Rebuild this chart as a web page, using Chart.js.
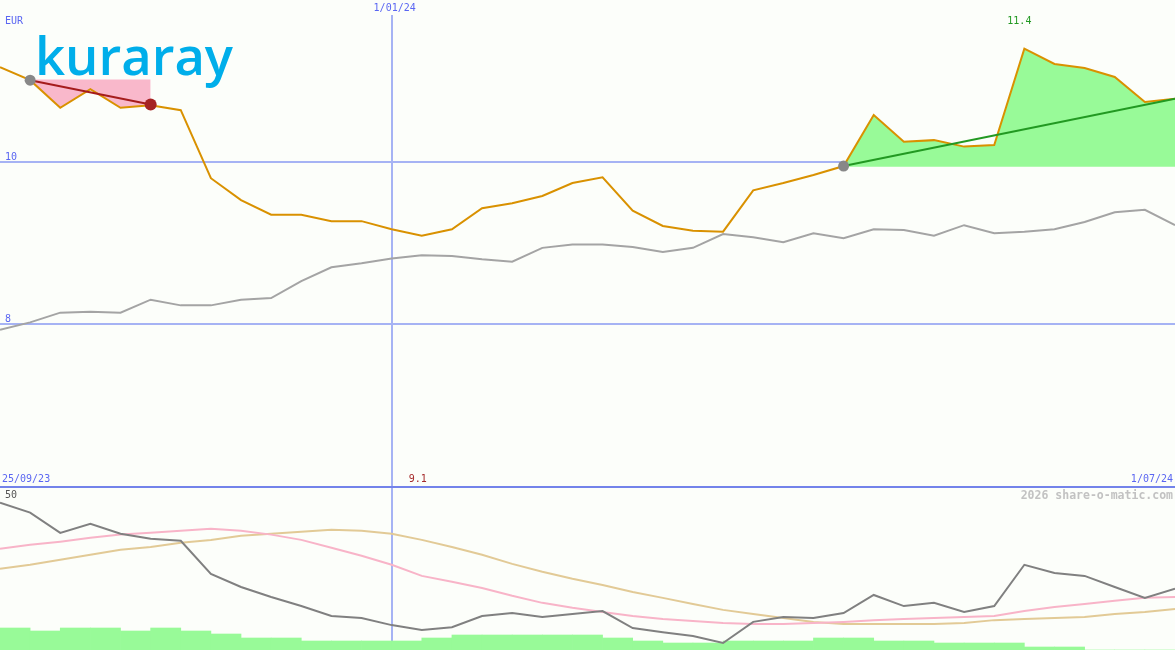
<!DOCTYPE html>
<html lang="en">
<head>
  <meta charset="UTF-8">
  <meta name="viewport" content="width=device-width, initial-scale=1.0">
  <title>Kuraray share chart</title>
  <script src="https://cdn.jsdelivr.net/npm/chart.js"></script>
  <style>
    body {
      margin: 0;
      background-color: #fcfefa;
    }
    canvas {
      display: block;
    }
  </style>
</head>
<body>
  <canvas id="priceChart" width="1175" height="486"></canvas>
  <canvas id="oscChart" width="1175" height="164"></canvas>

  <script>
    // weekly data, 25/09/23 .. 1/07/24
    const price = [11.17, 11.01, 10.67, 10.90, 10.67, 10.70, 10.64, 9.80, 9.53, 9.35,
                   9.35, 9.27, 9.27, 9.17, 9.09, 9.17, 9.43, 9.49, 9.58, 9.74,
                   9.81, 9.40, 9.21, 9.15, 9.14, 9.65, 9.74, 9.84, 9.95, 10.58,
                   10.25, 10.27, 10.19, 10.21, 11.40, 11.21, 11.16, 11.05, 10.74, 10.78];
    const compare = [7.93, 8.02, 8.14, 8.15, 8.14, 8.30, 8.23, 8.23, 8.30, 8.32,
                     8.53, 8.70, 8.75, 8.81, 8.85, 8.84, 8.80, 8.77, 8.94, 8.98,
                     8.98, 8.95, 8.89, 8.94, 9.11, 9.07, 9.01, 9.12, 9.06, 9.17,
                     9.16, 9.09, 9.22, 9.12, 9.14, 9.17, 9.26, 9.38, 9.41, 9.22];
    const oscFast = [49.3, 45.9, 39.0, 42.1, 38.7, 37.0, 36.3, 25.0, 20.5, 17.1,
                     14.0, 10.6, 9.9, 7.5, 5.8, 6.8, 10.6, 11.6, 10.3, 11.3,
                     12.3, 6.5, 5.1, 3.8, 1.4, 8.6, 10.3, 9.9, 11.6, 17.8,
                     14.0, 15.1, 12.0, 14.0, 28.1, 25.3, 24.3, 20.5, 16.8, 19.9];
    const oscMid = [33.6, 34.9, 36.0, 37.3, 38.4, 39.0, 39.7, 40.4, 39.7, 38.4,
                    36.6, 33.9, 31.2, 28.1, 24.3, 22.3, 20.2, 17.5, 15.1, 13.4,
                    12.0, 10.6, 9.6, 8.9, 8.2, 7.9, 7.9, 8.2, 8.6, 9.2,
                    9.6, 9.9, 10.3, 10.6, 12.3, 13.7, 14.7, 15.8, 16.8, 17.1];
    const oscSlow = [26.7, 28.1, 29.8, 31.5, 33.2, 34.2, 35.6, 36.6, 38.0, 38.7,
                     39.4, 40.1, 39.7, 38.7, 36.6, 34.2, 31.5, 28.4, 25.7, 23.3,
                     21.2, 18.8, 16.8, 14.7, 12.7, 11.3, 9.9, 8.6, 7.9, 7.9,
                     7.9, 7.9, 8.2, 9.2, 9.6, 9.9, 10.3, 11.3, 12.0, 13.0];
    // volume per week (thousand shares)
    const volume = [44, 38, 44, 44, 38, 44, 38, 32, 24, 24,
                    18, 18, 18, 18, 24, 30, 30, 30, 30, 30,
                    24, 18, 14, 14, 18, 18, 18, 24, 24, 18,
                    18, 14, 14, 14, 6, 6, 0, 0, 0];

    const startLabel = '25/09/23';
    const endLabel = '1/07/24';
    const newYearLabel = '1/01/24';
    const newYearWeek = 13;
    const priceTicks = [8, 10];
    const oscTicks = [0, 50];

    // falling and rising trend segments
    const lossWeeks = [1, 5];
    const lossBase = 11.02;
    const lossTrend = [{x: 1, y: 11.01}, {x: 5, y: 10.71}];
    const gainWeeks = [28, 39];
    const gainBase = 9.94;
    const gainTrend = [{x: 28, y: 9.95}, {x: 39, y: 10.78}];
    const markers = [{x: 1, y: 11.01}, {x: 5, y: 10.71}, {x: 28, y: 9.95}];

    const BLUE_TEXT = '#5a66f2';
    const GRID = '#a6b3f4';
    const MONO = '"DejaVu Sans Mono", monospace';

    Chart.defaults.font.family = MONO;

    function toPoints(values, from, to) {
      const start = from || 0;
      const end = to === undefined ? values.length - 1 : to;
      return values.slice(start, end + 1).map((y, k) => ({x: start + k, y: y}));
    }

    function xAxis() {
      return {
        type: 'linear',
        min: 0,
        max: price.length - 1,
        offset: false,
        border: {display: false},
        grid: {color: GRID, lineWidth: 2, drawTicks: false, offset: false},
        ticks: {display: false},
        afterBuildTicks: scale => { scale.ticks = [{value: newYearWeek}]; }
      };
    }

    // mirrored labels inside the plot, the axis itself takes no room
    function noRoom(scale) {
      scale.width = 0;
      scale.paddingTop = 0;
      scale.paddingBottom = 0;
    }

    function text(ctx, str, x, y, color, align, font) {
      ctx.save();
      ctx.font = font || '10px ' + MONO;
      ctx.fillStyle = color;
      ctx.textAlign = align || 'left';
      ctx.textBaseline = 'middle';
      ctx.fillText(str, x, y);
      ctx.restore();
    }

    // labels, logo and extreme values on the price panel
    const priceDecor = {
      id: 'priceDecor',
      afterDraw(chart) {
        const ctx = chart.ctx;
        const x = chart.scales.x;

        ctx.fillStyle = '#fcfefa';
        ctx.fillRect(x.getPixelForValue(newYearWeek) - 2, 0, 4, 15);
        text(ctx, newYearLabel, x.getPixelForValue(newYearWeek) + 3, 8, BLUE_TEXT, 'center');
        text(ctx, 'EUR', 5, 21, BLUE_TEXT);
        text(ctx, startLabel, 2, 479, BLUE_TEXT);
        text(ctx, endLabel, 1173, 479, BLUE_TEXT, 'right');

        const hi = Math.max(...price);
        const lo = Math.min(...price);
        text(ctx, hi.toFixed(1), x.getPixelForValue(price.indexOf(hi)) - 5, 21, '#229922', 'center');
        text(ctx, lo.toFixed(1), x.getPixelForValue(price.indexOf(lo)) - 4, 479, '#a52a2a', 'center');

        // company logo
        ctx.save();
        ctx.font = '600 53px "Open Sans"';
        ctx.fillStyle = '#00aeea';
        ctx.textBaseline = 'alphabetic';
        const w = ctx.measureText('kuraray').width;
        ctx.translate(35, 75);
        ctx.scale(198 / w, 1);
        ctx.fillText('kuraray', 0, 0);
        ctx.restore();
      }
    };

    const oscDecor = {
      id: 'oscDecor',
      afterDraw(chart) {
        const ctx = chart.ctx;
        ctx.fillStyle = '#7383ea';
        ctx.fillRect(0, 0, chart.width, 2);
        text(ctx, '2026 share-o-matic.com', 1173, 10, '#c2c2c2', 'right', 'bold 11.5px ' + MONO);
      }
    };

    const common = {
      responsive: false,
      animation: false,
      devicePixelRatio: 1,
      events: [],
      layout: {padding: 0, autoPadding: false},
      plugins: {legend: {display: false}, tooltip: {enabled: false}},
      elements: {line: {tension: 0}, point: {radius: 0}}
    };

    new Chart(document.getElementById('priceChart'), {
      type: 'line',
      data: {
        datasets: [
          {
            data: markers,
            showLine: false,
            pointRadius: [5.5, 6, 5.5],
            pointBackgroundColor: ['#888888', '#a52222', '#888888'],
            pointBorderWidth: 0,
            order: 0
          },
          {data: lossTrend, borderColor: '#a51c1c', borderWidth: 2, order: 1},
          {data: gainTrend, borderColor: '#229922', borderWidth: 2, order: 1},
          {data: toPoints(price), borderColor: '#d99100', borderWidth: 2, order: 3},
          {
            data: toPoints(price, lossWeeks[0], lossWeeks[1]),
            borderWidth: 0,
            backgroundColor: '#f9b8cb',
            fill: {value: lossBase},
            order: 4
          },
          {
            data: toPoints(price, gainWeeks[0], gainWeeks[1]),
            borderWidth: 0,
            backgroundColor: '#98fa98',
            fill: {value: gainBase},
            order: 4
          },
          {data: toPoints(compare), borderColor: '#a4a4a4', borderWidth: 2, order: 5}
        ]
      },
      options: {
        ...common,
        scales: {
          x: xAxis(),
          y: {
            position: 'left',
            min: 6,
            max: 12,
            border: {display: false},
            grid: {color: GRID, lineWidth: 2, drawTicks: false},
            ticks: {mirror: true, padding: 5, labelOffset: -5, color: BLUE_TEXT, font: {size: 10}},
            afterBuildTicks: scale => { scale.ticks = priceTicks.map(v => ({value: v})); },
            afterFit: noRoom
          }
        }
      },
      plugins: [priceDecor]
    });

    new Chart(document.getElementById('oscChart'), {
      type: 'line',
      data: {
        datasets: [
          {data: toPoints(oscFast), borderColor: '#808080', borderWidth: 2, order: 1},
          {data: toPoints(oscMid), borderColor: '#f8b4c8', borderWidth: 2, order: 2},
          {data: toPoints(oscSlow), borderColor: '#e2ca96', borderWidth: 2, order: 3},
          {
            type: 'bar',
            data: volume.map((v, i) => ({x: i + 0.5, y: v})),
            yAxisID: 'yVol',
            backgroundColor: '#98fa98',
            borderWidth: 0,
            barPercentage: 1,
            categoryPercentage: 1,
            order: 4
          }
        ]
      },
      options: {
        ...common,
        scales: {
          x: xAxis(),
          y: {
            position: 'left',
            min: -1,
            max: 55,
            border: {display: false},
            grid: {display: false, drawTicks: false},
            ticks: {mirror: true, padding: 5, labelOffset: -5, color: '#555555', font: {size: 10}},
            afterBuildTicks: scale => { scale.ticks = oscTicks.map(v => ({value: v})); },
            afterFit: noRoom
          },
          yVol: {
            position: 'right',
            display: false,
            min: 0,
            max: 328
          }
        }
      },
      plugins: [oscDecor]
    });
  </script>
</body>
</html>
